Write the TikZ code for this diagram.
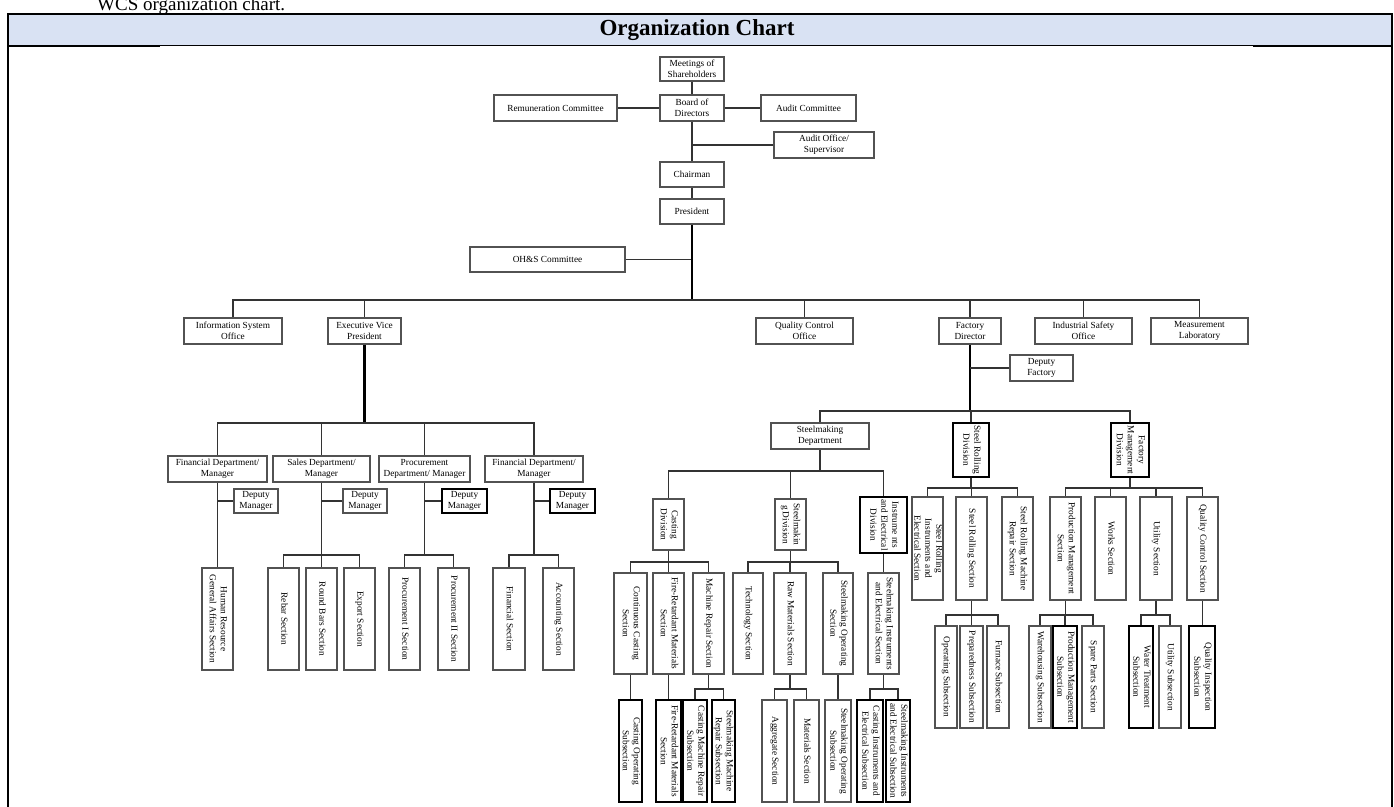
\documentclass[tikz,border=0pt]{standalone}
\usepackage{fontspec}
\setmainfont{Liberation Serif}
\usepackage{graphicx}
\definecolor{hdrblue}{HTML}{D9E2F3}
\newcommand{\sm}{\fontsize{9.3}{11}\selectfont}
% vertical (top-to-bottom) multi-line label
\newcommand{\vt}[1]{\rotatebox{-90}{\begin{tabular}{@{}c@{}}#1\end{tabular}}}
\begin{document}
\begin{tikzpicture}[x=1pt, y=-1pt,
  box/.style={draw=black!68, line width=1.5pt, fill=white, inner sep=0pt,
              font=\sm, align=center},
  boxk/.style={box, draw=black, line width=1.6pt},
  ln/.style={draw=black!80, line width=1.3pt},
  lnk/.style={draw=black, line width=2.4pt}]
\useasboundingbox (0,0) rectangle (1394,806);

% ---- page caption and table header ----
\node[anchor=base west, inner sep=0pt, font=\fontsize{19}{19}\selectfont] (cap) at (97,10) {WCS organization chart.};
\fill[hdrblue] (8,14) rectangle (1392,45);
\draw[line width=2.2pt] (7,14) -- (1393,14);
\draw[line width=0.9pt] (8,45) -- (1392,45);
\draw[line width=2.2pt] (8,45.6) -- (160,45.6);
\draw[line width=2.2pt] (1253,45.6) -- (1392,45.6);
\draw[line width=2.2pt] (8,13) -- (8,812);
\draw[line width=2.2pt] (1392,13) -- (1392,812);
\node[font=\bfseries\fontsize{23}{23}\selectfont] (title) at (697,30) {Organization Chart};

% ---- bar levels ----
\coordinate (mainbar) at (0,300);
\coordinate (evpbar) at (0,423);
\coordinate (deptbar) at (0,555);
\coordinate (facbar) at (0,411);
\coordinate (smdbar) at (0,471);
\coordinate (divbar) at (0,562);
\coordinate (subbar) at (0,689);
\coordinate (srbar) at (0,488);
\coordinate (srsubbar) at (0,615);

% box from its corners: [style]{name}{x1}{y1}{x2}{y2}{text}
\newcommand{\B}[7][box]{\node[#1, minimum width={(#5-#3)*1pt}, minimum height={(#6-#4)*1pt}] (#2) at ({(#3+#5)/2},{(#4+#6)/2}) {#7};}

% ---- governance ----
\B{meet}{660}{57}{724}{81}{Meetings of\\Shareholders}
\B{board}{660}{95}{724}{121}{Board of\\Directors}
\B{rem}{494}{95}{617}{121}{Remuneration Committee}
\B{audc}{761}{95}{856}{121}{Audit Committee}
\B{audo}{774}{132}{874}{158}{Audit Office/\\Supervisor}
\B{chair}{660}{162}{724}{187}{Chairman}
\B{pres}{660}{199}{724}{224}{President}
\B{ohs}{470}{247}{625}{272}{OH\&S Committee}

% ---- offices under the president ----
\B{iso}{184}{318}{282}{344}{Information System\\Office}
\B{evp}{328}{318}{401}{344}{Executive Vice\\President}
\B{qco}{756}{318}{853}{344}{Quality Control\\Office}
\B{fd}{939}{318}{1001}{344}{Factory\\Director}
\B{isafe}{1035}{318}{1132}{344}{Industrial Safety\\Office}
\B{mlab}{1151}{318}{1248}{344}{Measurement\\Laboratory}
\B{dfac}{1010}{355}{1073}{381}{Deputy\\Factory}

% ---- departments under the executive vice president ----
\B{fin1}{168}{456}{267}{482}{Financial Department/\\Manager}
\B{sales}{273}{456}{370}{482}{Sales Department/\\Manager}
\B{proc}{379}{456}{470}{482}{Procurement\\Department/ Manager}
\B{fin2}{485}{456}{583}{482}{Financial Department/\\Manager}
\B{dm1}{234}{489}{278}{513}{Deputy\\Manager}
\B{dm2}{343}{489}{387}{513}{Deputy\\Manager}
\B[boxk]{dm3}{442}{489}{487}{513}{Deputy\\Manager}
\B[boxk]{dm4}{550}{489}{595}{513}{Deputy\\Manager}

\B{hr}{202}{568}{233}{670}{\vt{Human Resource\\General Affairs Section}}
\B{rebar}{268}{568}{299}{670}{\vt{Rebar Section}}
\B{round}{306}{568}{337}{670}{\vt{Round Bars Section}}
\B{export}{344}{568}{375}{670}{\vt{Export Section}}
\B{proc1}{389}{568}{420}{670}{\vt{Procurement I Section}}
\B{proc2}{438}{568}{469}{670}{\vt{Procurement II Section}}
\B{finsec}{493}{568}{525}{670}{\vt{Financial Section}}
\B{acc}{543}{568}{574}{670}{\vt{Accounting Section}}

% ---- factory divisions ----
\B{smd}{771}{423}{869}{449}{Steelmaking\\Department}
\B[boxk]{srd}{953}{423}{989}{477}{\vt{Steel Rolling\\Division}}
\B[boxk]{fmd}{1111}{423}{1149}{477}{\vt{Factory\\Management\\Division}}

% steelmaking department
\B{cd}{653}{499}{684}{550}{\vt{Casting\\Division}}
\B{sd}{775}{499}{806}{550}{\vt{Steelmakin\\g Division}}
\B[boxk]{ied}{860}{497}{907}{553}{\vt{Instrume nts\\and Electrical\\Division}}

\B{ccs}{614}{573}{647}{674}{\vt{Continuous Casting\\Section}}
\B{frms}{653}{573}{684}{674}{\vt{Fire-Retardant Materials\\Section}}
\B{mrs}{693}{573}{724}{674}{\vt{Machine Repair Section}}
\B{tech}{733}{573}{763}{674}{\vt{Technology Section}}
\B{raw}{774}{573}{806}{674}{\vt{Raw Materials Section}}
\B{sos}{823}{573}{853}{674}{\vt{Steelmaking Operating\\Section}}
\B{sies}{868}{573}{899}{674}{\vt{Steelmaking Instruments\\and Electrical Section}}

\B[boxk]{cos}{619}{700}{642}{802}{\vt{Casting Operating\\Subsection}}
\B[boxk]{frsub}{656}{700}{681}{802}{\vt{Fire-Retardant Materials\\Section}}
\B[boxk]{cmrs}{683}{700}{707}{802}{\vt{Casting Machine Repair\\Subsection}}
\B[boxk]{smrs}{712}{700}{735}{802}{\vt{Steelmaking Machine\\Repair Subsection}}
\B{agg}{762}{700}{787}{802}{\vt{Aggregate Section}}
\B{mat}{794}{700}{819}{802}{\vt{Materials Section}}
\B{sosub}{825}{700}{851}{802}{\vt{Steelmaking Operating\\Subsection}}
\B[boxk]{cies}{857}{700}{883}{802}{\vt{Casting Instruments and\\Electrical Subsection}}
\B[boxk]{siesub}{886}{700}{910}{802}{\vt{Steelmaking Instruments\\and Electrical Subsection}}

% steel rolling division
\node[box, minimum width=31pt, minimum height=103pt,
      path picture={\node[font=\sm] at (path picture bounding box.center)
        {\vt{Steel Rolling\\Instruments and\\Electrical Section}};}]
  (srie) at (927.5,548.5) {};
\B{srs}{956}{497}{987}{600}{\vt{Steel Rolling Section}}
\B{srmr}{1002}{497}{1033}{600}{\vt{Steel Rolling Machine\\Repair Section}}
\B{op}{935}{626}{957}{728}{\vt{Operating Subsection}}
\B{prep}{960}{626}{983}{728}{\vt{Preparedness Subsection}}
\B{furn}{987}{626}{1009}{728}{\vt{Furnace Subsection}}

% factory management division
\B{pms}{1050}{497}{1081}{600}{\vt{Production Management\\Section}}
\B{works}{1095}{497}{1126}{600}{\vt{Works Section}}
\B{util}{1140}{497}{1172}{600}{\vt{Utility Section}}
\B{qcs}{1187}{497}{1218}{600}{\vt{Quality Control Section}}
\B{ware}{1029}{626}{1051}{728}{\vt{Warehousing Subsection}}
\B[boxk]{pmsub}{1053}{626}{1077}{728}{\vt{Production Management\\Subsection}}
\B{spare}{1082}{626}{1104}{728}{\vt{Spare Parts Section}}
\B[boxk]{water}{1129}{626}{1153}{728}{\vt{Water Treatment\\Subsection}}
\B{utsub}{1159}{626}{1181}{728}{\vt{Utility Subsection}}
\B[boxk]{qis}{1189}{626}{1215}{728}{\vt{Quality Inspection\\Subsection}}

% ---- connectors ----
% parent down to a bar, then across and down into each child
\newcommand{\fork}[4][ln]{%
  \draw[#1] (#2.south) -- (#2.south |- #3);
  \foreach \c in {#4} \draw[ln] (#2.south |- #3) -| (\c.north);}

\draw[ln] (meet) -- (board);
\draw[ln] (board) -- (chair);
\draw[ln] (chair) -- (pres);
\draw[ln] (rem) -- (board);
\draw[ln] (board) -- (audc);
\draw[ln] (audo.west) -- (audo.west -| board.south);
\draw[ln] (ohs.east) -- (ohs.east -| pres.south);
\fork[lnk]{pres}{mainbar}{iso,evp,qco,fd,isafe,mlab}

\fork[lnk]{evp}{evpbar}{fin1,sales,proc,fin2}
\draw[ln] (dm1.west) -- (dm1.west -| fin1.south);
\draw[ln] (dm2.west) -- (dm2.west -| sales.south);
\draw[ln] (dm3.west) -- (dm3.west -| proc.south);
\draw[ln] (dm4.west) -- (dm4.west -| fin2.south);
\draw[ln] (fin1.south) -- (hr.north);
\fork{sales}{deptbar}{rebar,round,export}
\fork{proc}{deptbar}{proc1,proc2}
\fork{fin2}{deptbar}{finsec,acc}

\fork[lnk]{fd}{facbar}{smd,srd,fmd}
\draw[ln] (dfac.west) -- (dfac.west -| fd.south);
\fork{smd}{smdbar}{cd,sd,ied}
\fork{cd}{divbar}{ccs,frms,mrs}
\fork{sd}{divbar}{tech,raw,sos}
\draw[ln] (ied.south) -- (ied.south |- sies.north);
\draw[ln] (ccs.south) -- (ccs.south |- cos.north);
\draw[ln] (frms.south) -- (frms.south |- frsub.north);
\fork{mrs}{subbar}{cmrs,smrs}
\fork{raw}{subbar}{agg,mat}
\draw[ln] (sos.south) -- (sos.south |- sosub.north);
\fork{sies}{subbar}{cies,siesub}

\fork{srd}{srbar}{srie,srs,srmr}
\fork{srs}{srsubbar}{op,prep,furn}
\fork{fmd}{srbar}{pms,works,util,qcs}
\fork{pms}{srsubbar}{ware,pmsub,spare}
\fork{util}{srsubbar}{water,utsub}
\draw[ln] (qcs.south) -- (qcs.south |- qis.north);
\end{tikzpicture}
\end{document}
